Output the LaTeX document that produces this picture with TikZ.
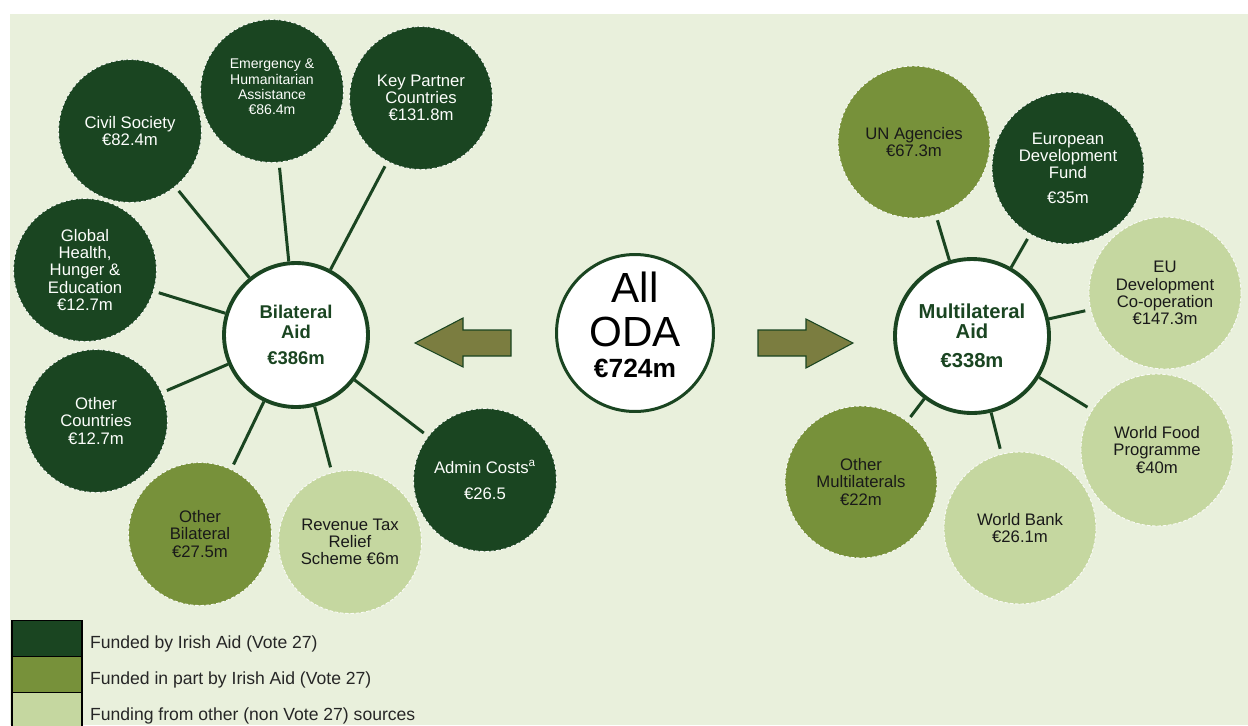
\documentclass[tikz,border=0pt]{standalone}
\usepackage{fontspec}
\setmainfont{Liberation Sans}
\usetikzlibrary{positioning}

\definecolor{paper}{RGB}{233,240,220}
\definecolor{darkaid}{RGB}{26,69,33}
\definecolor{partaid}{RGB}{119,145,58}
\definecolor{otheraid}{RGB}{197,215,160}
\definecolor{arrowfill}{RGB}{123,125,64}

\tikzset{
  hub/.style={circle, draw=darkaid, line width=2.2pt, fill=white, inner sep=0pt,
    text=darkaid, align=center, font=\bfseries\fontsize{10.5}{11}\selectfont},
  leaf/.style={circle, inner sep=0pt, minimum size=2.86cm, draw=white!75!paper,
    dash pattern=on 2pt off 1pt, line width=0.5pt, align=center,
    font=\fontsize{9.5}{9.8}\selectfont},
  wide/.style={minimum size=3.04cm},
  dk/.style={leaf, fill=darkaid, text=white!92!paper},
  md/.style={leaf, fill=partaid, text=black!90},
  lt/.style={leaf, fill=otheraid, text=black!90},
  spoke/.style={darkaid, line width=1.7pt, shorten >=3pt},
  pointer/.style={fill=arrowfill, draw=darkaid, line width=0.6pt},
  keybox/.style={draw=black, line width=0.8pt, fill=#1, minimum width=1.4cm,
    minimum height=0.72cm, inner sep=0pt},
  keytext/.style={font=\fontsize{10}{12}\selectfont, text=black!85, inner sep=0pt},
}

\begin{document}
\begin{tikzpicture}[x=0.02cm, y=-0.02cm]
  \useasboundingbox (0,0) rectangle (1248,725);
  \fill[paper] (10,14) rectangle (1248,725);

  % total in the middle, split both ways
  \node[hub, line width=1.7pt, minimum size=3.14cm, text=black,
    font=\fontsize{24}{25.5}\selectfont] (oda) at (635,333)
    {All\\ODA\\[-8pt]{\bfseries\fontsize{15}{17}\selectfont €724m}\\[-16pt]{}};
  \draw[pointer] (511,330) -- (463,330) -- (463,318) -- (415,343)
    -- (463,367) -- (463,356) -- (511,356) -- cycle;
  \draw[pointer] (758,330) -- (806,330) -- (806,319) -- (853,343)
    -- (806,368) -- (806,356) -- (758,356) -- cycle;

  % bilateral side
  \node[hub, minimum size=2.88cm] (bil) at (296,335) {Bilateral\\Aid\\[4pt]€386m};
  \node[dk] (civ) at (130,131) {Civil Society\\€82.4m};
  \node[dk, font=\fontsize{8}{8.7}\selectfont] (emg) at (272,91)
    {Emergency \&\\Humanitarian\\Assistance\\€86.4m\\[-4pt]{}};
  \node[dk] (kpc) at (421,98) {Key Partner\\Countries\\€131.8m};
  \node[dk] (ghh) at (85,270) {Global\\Health,\\Hunger \&\\Education\\€12.7m};
  \node[dk] (ocn) at (96,421) {Other\\Countries\\€12.7m};
  \node[md] (obl) at (200,534) {Other\\Bilateral\\€27.5m};
  \node[lt] (rts) at (350,542) {Revenue Tax\\Relief\\Scheme €6m};
  \node[dk] (adm) at (485,480) {Admin Costs\textsuperscript{a}\\[5pt]€26.5};
  \foreach \n in {civ,emg,kpc,ghh,ocn,obl,rts,adm}
    \draw[spoke] (bil) -- (\n);

  % multilateral side
  \node[hub, minimum size=3.08cm, font=\bfseries\fontsize{11.5}{11.5}\selectfont]
    (mul) at (972,336) {Multilateral\\Aid\\[5pt]€338m};
  \node[md, wide] (una) at (914,142) {UN Agencies\\€67.3m};
  \node[dk, wide] (edf) at (1068,168) {European\\Development\\Fund\\[4pt]€35m};
  \node[lt, wide] (euc) at (1165,293) {EU\\Development\\Co-operation\\€147.3m};
  \node[lt, wide] (wfp) at (1157,450) {World Food\\Programme\\€40m};
  \node[lt, wide] (wbk) at (1020,528) {World Bank\\€26.1m};
  \node[md, wide] (oml) at (861,482) {Other\\Multilaterals\\€22m};
  \foreach \n in {una,edf,euc,wfp,wbk,oml}
    \draw[spoke] (mul) -- (\n);

  % key
  \foreach \i/\c/\t in {1/darkaid/{Funded by Irish Aid (Vote 27)},
      2/partaid/{Funded in part by Irish Aid (Vote 27)},
      3/otheraid/{Funding from other (non Vote 27) sources}} {
    \node[keybox=\c] (key\i) at (47,{638.5+36*(\i-1)}) {};
    \node[keytext, anchor=west] (lab\i) at ([xshift=4pt,yshift=-3pt]key\i.east) {\t};
  }
\end{tikzpicture}
\end{document}
